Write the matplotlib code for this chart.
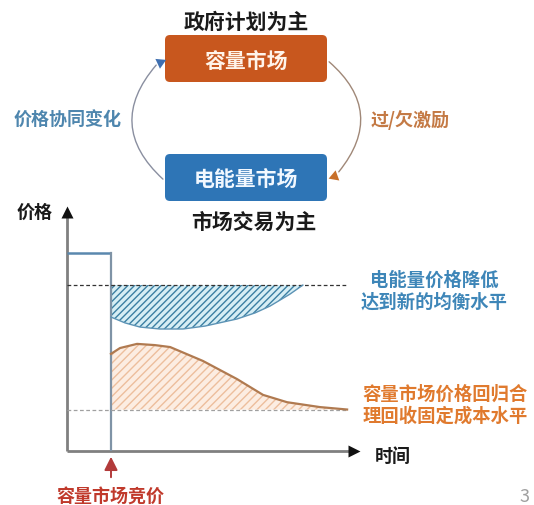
import matplotlib
matplotlib.use("Agg")
import matplotlib.pyplot as plt
from matplotlib.patches import FancyBboxPatch, FancyArrowPatch

plt.rcParams['font.family'] = ['Noto Sans CJK SC', 'DejaVu Sans']
plt.rcParams['hatch.linewidth'] = 1.0

# ---- data (time / price in arbitrary units) ----
auction_t = 1.50
old_price = 8.1
t_end = 9.56

energy_eq = 6.8
energy_t = [1.50, 1.98, 2.49, 3.17, 3.96, 4.71, 5.80, 6.42, 6.93, 7.61, 8.05]
energy_p = [5.49, 5.25, 5.08, 5.00, 5.00, 5.12, 5.41, 5.66, 5.94, 6.43, 6.80]

capacity_eq = 1.7
capacity_t = [1.50, 1.81, 2.39, 3.00, 3.52, 4.64, 5.80, 6.69, 7.51, 8.63, 9.56]
capacity_p = [3.98, 4.22, 4.39, 4.34, 4.26, 3.69, 2.95, 2.30, 2.00, 1.80, 1.70]

W, H = 534, 506
fig = plt.figure(figsize=(W / 100, H / 100), dpi=100)

# overlay in pixel units for the diagram part
ov = fig.add_axes([0, 0, 1, 1])
ov.set_xlim(0, W)
ov.set_ylim(H, 0)
ov.axis('off')

orange = '#C8571E'
blue = '#2E75B6'
bold = dict(fontweight='bold')

ov.text(246, 22, '政府计划为主', ha='center', va='center', fontsize=15, color='#1a1a1a', **bold)
ov.add_patch(FancyBboxPatch((165, 36), 162, 47, boxstyle='round,pad=0,rounding_size=5',
                            fc=orange, ec='none'))
ov.text(246, 61, '容量市场', ha='center', va='center', fontsize=15, color='#FFF4EA', **bold)
ov.add_patch(FancyBboxPatch((165, 155), 162, 47, boxstyle='round,pad=0,rounding_size=5',
                            fc=blue, ec='none'))
ov.text(246, 179, '电能量市场', ha='center', va='center', fontsize=15, color='#F2F8FF', **bold)
ov.text(254, 222, '市场交易为主', ha='center', va='center', fontsize=15, color='#1a1a1a', **bold)

ov.text(68, 120, '价格协同变化', ha='center', va='center', fontsize=13, color='#4E86AE', **bold)
ov.text(410, 120, '过/欠激励', ha='center', va='center', fontsize=13, color='#C47A45', **bold)

# cycle arrows between the two boxes
ov.add_patch(FancyArrowPatch((165, 182), (158, 64), connectionstyle='arc3,rad=-0.5',
                             arrowstyle='-', color='#8A8FA0', lw=1.0))
ov.plot([160], [63], marker=(3, 0, -65), ms=9, color='#3F6FB0', mec='none')
ov.add_patch(FancyArrowPatch((327, 61), (337, 175), connectionstyle='arc3,rad=-0.5',
                             arrowstyle='-', color='#A08878', lw=1.0))
ov.plot([334], [177], marker=(3, 0, 110), ms=9, color='#C8702A', mec='none')

# ---- price / time chart ----
x0, x1, ytop, ybot = 67, 360, 208, 452
ax = fig.add_axes([x0 / W, (H - ybot) / H, (x1 - x0) / W, (ybot - ytop) / H])
ax.set_xlim(0, 10)
ax.set_ylim(0, 10)
ax.axis('off')

ax_col = '#808080'
ax.plot([0, 0], [0, 9.7], color=ax_col, lw=2, clip_on=False, solid_capstyle='butt')
ax.plot([0, 9.7], [0, 0], color=ax_col, lw=2, clip_on=False, solid_capstyle='butt')
ax.plot([0], [9.78], marker='^', ms=8, color='#111111', mec='none', clip_on=False)
ax.plot([9.8], [0], marker='>', ms=8, color='#111111', mec='none', clip_on=False)

# old price level and drop at auction
ax.plot([0, auction_t], [old_price, old_price], color='#5A88AE', lw=1.8, solid_capstyle='butt')
ax.plot([auction_t, auction_t], [0, old_price], color='#7F93A6', lw=1.6)

# energy market: drop then recovery to new equilibrium
ax.fill_between(energy_t, energy_p, energy_eq, facecolor='#D6EEF5', edgecolor='#3B7FA3',
                hatch='/////', lw=0)
ax.plot([0, t_end], [energy_eq, energy_eq], color='#333333', lw=0.9, ls=(0, (3, 2)))
ax.plot(energy_t, energy_p, color='#5C93B5', lw=1.0)

# capacity market: over-incentive then return
ax.fill_between(capacity_t, capacity_p, capacity_eq, facecolor='#FCEDE2', edgecolor='#EDBE9C',
                hatch='////', lw=0)
ax.plot([0, t_end], [capacity_eq, capacity_eq], color='#A0A0A0', lw=0.9, ls=(0, (3, 2)))
ax.plot(capacity_t, capacity_p, color='#B07A50', lw=1.6)

ov.text(35, 212, '价格', ha='center', va='center', fontsize=13, color='#1a1a1a', **bold)
ov.text(393, 456, '时间', ha='center', va='center', fontsize=13, color='#1a1a1a', **bold)
ov.text(177, 391, '过激励', ha='center', va='center', fontsize=12.5, color='#D9443A', **bold)
ov.text(434, 291, '电能量价格降低\n达到新的均衡水平', ha='center', va='center', fontsize=13.2,
        color='#3E86B8', linespacing=1.2, **bold)
ov.text(445, 405, '容量市场价格回归合\n理回收固定成本水平', ha='center', va='center', fontsize=13.2,
        color='#E07A2E', linespacing=1.2, **bold)

# auction marker
ov.add_patch(FancyArrowPatch((111, 481), (111, 455), arrowstyle='-|>,head_length=8,head_width=4',
                             color='#B23A3A', lw=1.4, mutation_scale=1))
ov.text(111, 496, '容量市场竞价', ha='center', va='center', fontsize=13, color='#C0392B', **bold)
ov.text(520, 497, '3', ha='left', va='center', fontsize=13, color='#A0A0A0')

fig.savefig('out.png', dpi=100)
